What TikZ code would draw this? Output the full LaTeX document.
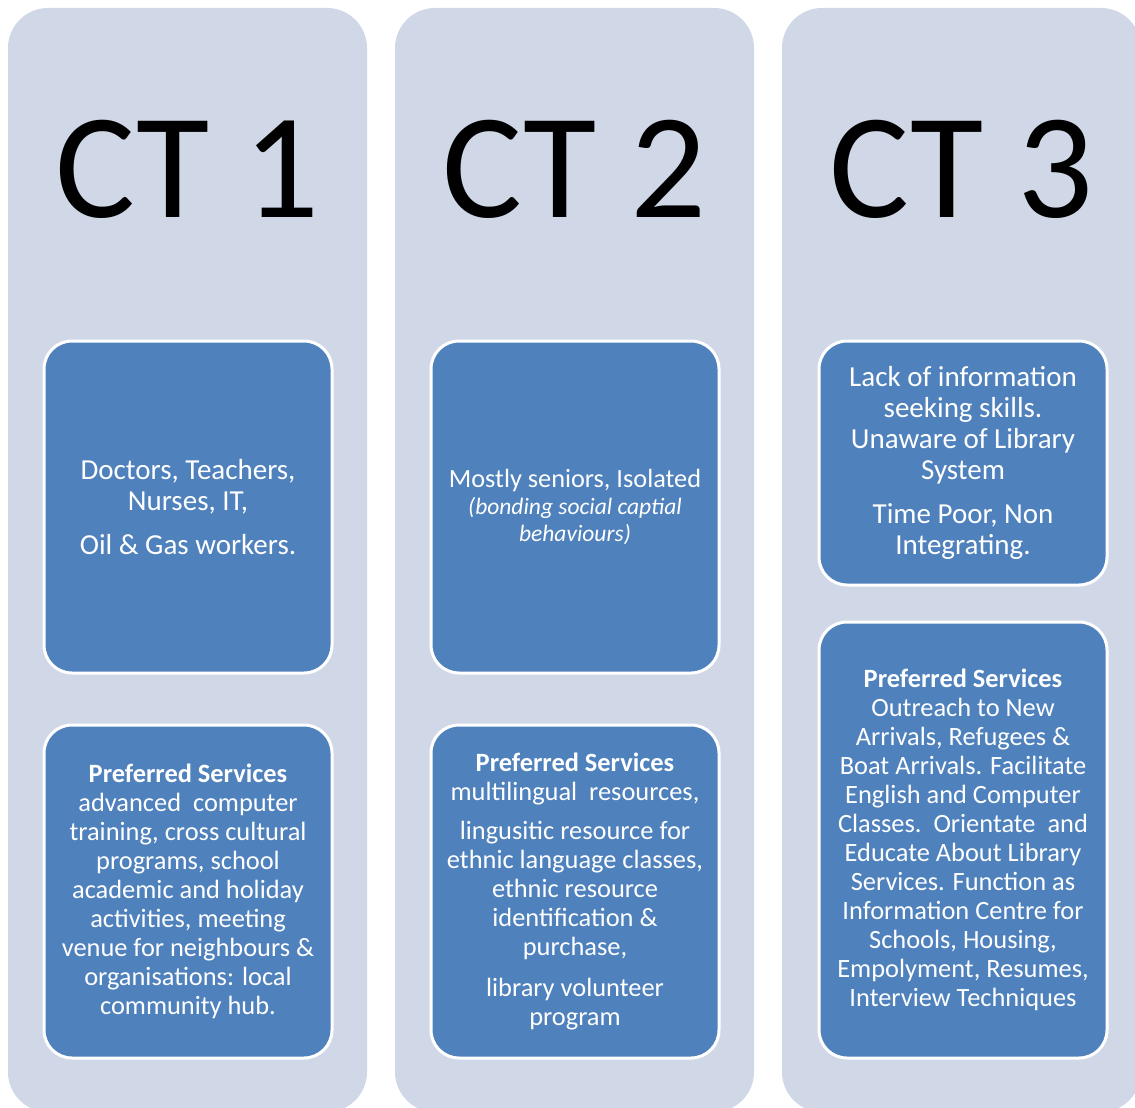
\documentclass[tikz,border=0pt]{standalone}
\usepackage{fontspec}
\setmainfont{Carlito}
\definecolor{panelbg}{RGB}{208,216,232}
\definecolor{boxblue}{RGB}{79,129,189}
\newcommand{\itsmall}[1]{{\fontsize{23.5}{26}\selectfont\itshape #1}}
\tikzset{
  panel/.style={fill=panelbg, rounded corners=40pt, inner sep=0pt, draw=none},
  bluebox/.style={fill=boxblue, draw=white, line width=3pt, rounded corners=28pt,
    text=white, align=center, inner sep=0pt, minimum width=288pt},
  toptxt/.style={font=\fontsize{29}{31}\selectfont},
  bottxt/.style={font=\fontsize{26.4}{29}\selectfont},
  cttitle/.style={font=\fontsize{150}{150}\selectfont, anchor=base, text=black, inner sep=0pt}
}
\begin{document}
\begin{tikzpicture}[x=1pt,y=-1pt]
\useasboundingbox (0,0) rectangle (1135,1108);
\fill[white] (0,0) rectangle (1135,1108);
\clip (0,0) rectangle (1135,1108);
% panels
\node[panel, minimum width=359pt, minimum height=1104pt] (p1) at (187.5,560) {};
\node[panel, minimum width=359pt, minimum height=1104pt] (p2) at (574.5,560) {};
\node[panel, minimum width=359pt, minimum height=1104pt] (p3) at (961.5,560) {};
% titles
\node[cttitle] (t1) at (187.5,217) {CT 1};
\node[cttitle] (t2) at (574.5,217) {CT 2};
\node[cttitle] (t3) at (961.5,217) {CT 3};
% column 1
\node[bluebox, toptxt, minimum height=332pt] (b1a) at (188,507)
 {Doctors, Teachers,\\ Nurses, IT,\\[13pt] Oil \& Gas workers.};
\node[bluebox, bottxt, minimum height=333pt] (b1b) at (188,891.5)
 {\textbf{Preferred Services}\\ advanced\ \ computer\\ training, cross cultural\\ programs, school\\ academic and holiday\\ activities, meeting\\ venue for neighbours \&\\ organisations: local\\ community hub.};
% column 2
\node[bluebox, font=\fontsize{26.3}{27}\selectfont, minimum height=332pt] (b2a) at (575,507)
 {Mostly seniors, Isolated\\ \itsmall{(bonding social captial}\\ \itsmall{behaviours)}};
\node[bluebox, bottxt, minimum height=333pt] (b2b) at (575,891.5)
 {\textbf{Preferred Services}\\ multilingual\ \ resources,\\[10pt] lingusitic resource for\\ ethnic language classes,\\ ethnic resource\\ identification \&\\ purchase,\\[12pt] library volunteer\\ program};
% column 3
\node[bluebox, toptxt, minimum height=244pt] (b3a) at (963,463)
 {Lack of information\\ seeking skills.\\ Unaware of Library\\ System\\[13pt] Time Poor, Non\\ Integrating.};
\node[bluebox, bottxt, minimum height=436pt] (b3b) at (963,840)
 {\textbf{Preferred Services}\\ Outreach to New\\ Arrivals, Refugees \&\\ Boat Arrivals. Facilitate\\ English and Computer\\ Classes.\ \ Orientate\ \ and\\ Educate About Library\\ Services. Function as\\ Information Centre for\\ Schools, Housing,\\ Empolyment, Resumes,\\ Interview Techniques};
\end{tikzpicture}
\end{document}
